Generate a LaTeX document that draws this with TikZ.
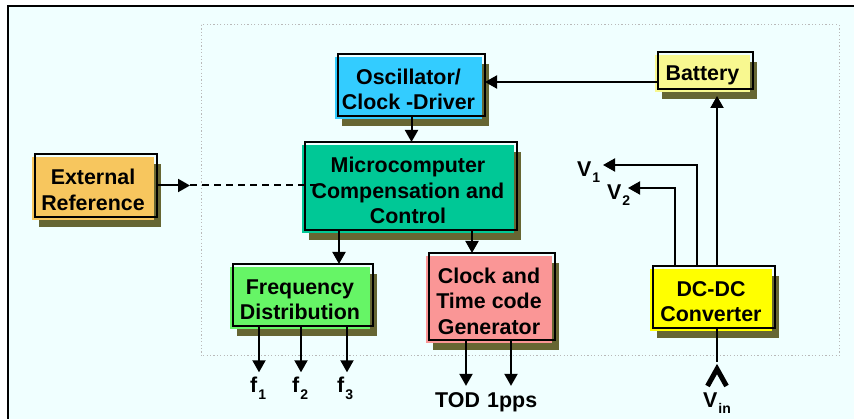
\documentclass[tikz,border=0pt]{standalone}
\usepackage{fontspec}
\setmainfont{Liberation Sans}
\usetikzlibrary{arrows.meta}
\definecolor{bgc}{RGB}{240,255,255}
\definecolor{shc}{RGB}{102,102,51}
\definecolor{dotc}{RGB}{185,185,185}
\definecolor{extc}{RGB}{247,198,94}
\definecolor{oscc}{RGB}{51,204,255}
\definecolor{batc}{RGB}{248,248,144}
\definecolor{micc}{RGB}{0,200,150}
\definecolor{frqc}{RGB}{102,245,102}
\definecolor{clkc}{RGB}{250,150,150}
\definecolor{dcc}{RGB}{255,255,0}
\tikzset{
  outl/.style={draw, line width=2pt, inner sep=0pt, outer sep=0pt},
  lbl/.style={align=center, font=\bfseries\fontsize{21.4}{25.5}\selectfont, inner sep=0pt},
  arr/.style={line width=2pt, -{Triangle[length=12pt,width=13pt]}},
  ln/.style={line width=2pt},
  olbl/.style={font=\bfseries\fontsize{21.4}{21}\selectfont, inner sep=0pt, anchor=base west},
}
\newcommand\mkblock[7]{%
  \fill[shc] ({#2+4},{#3+10}) rectangle ({#4+4},{#5+10});
  \fill[#6] ({#2-3},{#3+3}) rectangle ({#4-3},{#5+3});
  \node[outl, minimum width={#4-#2}, minimum height={#5-#3}] (#1) at ({(#2+#4)/2},{(#3+#5)/2}) {};
  \node[lbl] (#1-t) at ({(#2+#4)/2-3},{(#3+#5)/2+4.5}) {#7};
}
\newcommand\subl[1]{\raisebox{-6pt}{\fontsize{14}{14}\selectfont #1}}
\begin{document}
\begin{tikzpicture}[x=1pt,y=-1pt]
\useasboundingbox (0,0) rectangle (854,419);
\fill[white] (0,0) rectangle (854,419);
\fill[bgc] (8,6) rectangle (854,419);
\draw[line width=2pt] (8,419) -- (8,6) -- (854,6);
\draw[dotc, line width=1pt, dash pattern=on 1.2pt off 2.2pt] (201,25) rectangle (839,356);

\mkblock{ext}{35}{154}{157}{217}{extc}{External\\Reference}
\mkblock{osc}{338}{54}{485}{116}{oscc}{Oscillator/\\Clock -Driver}
\mkblock{bat}{658}{52}{753}{89}{batc}{Battery}
\mkblock{micro}{305}{142}{517}{230}{micc}{Microcomputer\\Compensation and\\Control}
\mkblock{freq}{233}{264}{373}{326}{frqc}{Frequency\\Distribution}
\mkblock{clock}{429}{253}{555}{340}{clkc}{Clock and\\Time code\\Generator}
\mkblock{dc}{653}{266}{775}{328}{dcc}{DC-DC\\Converter}

% labels
\node[olbl] (f1) at (250,393) {f\kern1pt\subl{1}};
\node[olbl] (f2) at (292,393) {f\kern1pt\subl{2}};
\node[olbl] (f3) at (337,393) {f\kern1pt\subl{3}};
\node[olbl] (tod) at (435,407) {TOD};
\node[olbl] (pps) at (487,407) {1pps};
\node[olbl] (v1) at (577,177) {V\kern1pt\subl{1}};
\node[olbl] (v2) at (607,200) {V\kern1pt\subl{2}};
\node[olbl] (vin) at (703,407) {V\kern1pt\subl{in}};

% connectors
\draw[arr] ([yshift=-11.5pt]bat.west) coordinate (b1) -- (b1 -| osc.east);
\draw[arr] (osc.south) -- (osc.south |- micro.north);
\draw[arr] ([xshift=34pt]micro.south west) coordinate (m1) -- (m1 |- freq.north);
\draw[arr] ([xshift=-45pt]micro.south east) coordinate (m2) -- (m2 |- clock.north);
\draw[arr] (ext.east) -- ++(33,0) coordinate (e1);
\draw[ln, dash pattern=on 7pt off 5pt] (e1) -- (e1 -| micro.west) -- ++(15,0);
\coordinate (bt) at ([yshift=-7pt]bat.south);
\draw[arr] ([xshift=64pt]dc.north west) coordinate (d1) -- (d1 |- bt);
\coordinate (v1t) at (603,165);
\coordinate (v2t) at (628,188);
\draw[arr] ([xshift=44pt]dc.north west) |- (v1t);
\draw[arr] ([xshift=22pt]dc.north west) |- (v2t);
\coordinate (ft) at ([yshift=5pt]f1.north);
\draw[arr] ([xshift=26pt]freq.south west) coordinate (a1) -- (a1 |- ft);
\draw[arr] ([xshift=68pt]freq.south west) coordinate (a2) -- (a2 |- ft);
\draw[arr] ([xshift=114pt]freq.south west) coordinate (a3) -- (a3 |- ft);
\coordinate (ct) at ([yshift=6pt]tod.north);
\draw[arr] ([xshift=37pt]clock.south west) coordinate (c1) -- (c1 |- ct);
\draw[arr] ([xshift=82pt]clock.south west) coordinate (c2) -- (c2 |- ct);
\coordinate (vinc) at (717,362);
\draw[ln] ([xshift=64pt]dc.south west) -- (vinc);
\draw[line width=5pt, miter limit=10] (707.5,386) -- (717,369) -- (726.5,386);
\end{tikzpicture}
\end{document}
